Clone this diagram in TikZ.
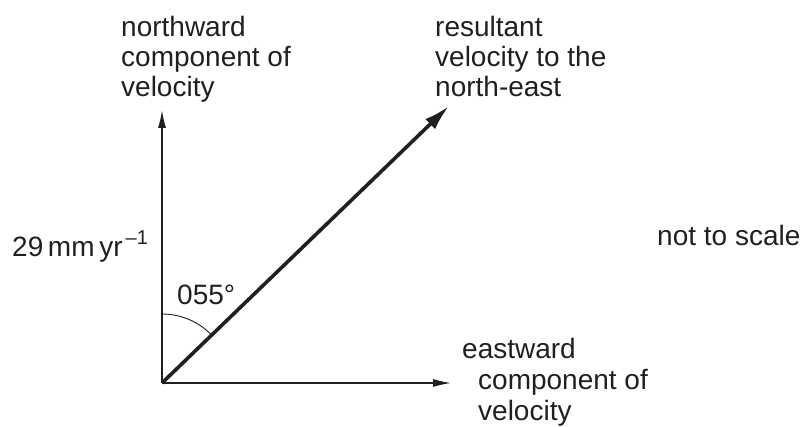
\documentclass[tikz,border=0pt]{standalone}
\usepackage{fontspec}
\setmainfont{Liberation Sans}
\usetikzlibrary{arrows.meta}
\definecolor{ink}{RGB}{35,31,32}
\tikzset{
  lbl/.style={anchor=base west, inner sep=0pt, text=ink, font=\fontsize{28}{31}\selectfont},
  axis/.style={draw=ink, line width=1.3pt, -{Latex[length=18pt,width=8pt]}},
  result/.style={draw=ink, line width=3.6pt, -{Latex[length=26pt,width=14pt]}},
  anglearc/.style={draw=ink, line width=0.9pt}
}
\begin{document}
\begin{tikzpicture}[x=1pt,y=-1pt]
\useasboundingbox (0,0) rectangle (808,427);
\coordinate (O) at (162,383);
\coordinate (N) at (162,110);
\coordinate (E) at (451,383);
\coordinate (R) at (449,106);
\coordinate (A) at (162,314);
% axes
\draw[axis] (O) -- (N);
\draw[axis] (O) -- (E);
\draw[result] (O) -- (R);
% angle arc
\draw[anglearc] (A) arc[start angle=90, end angle=44, radius=69pt];
% labels
\node[lbl] (n1) at (121,37) {northward};
\node[lbl] (n2) at (121,67) {component of};
\node[lbl] (n3) at (121,97) {velocity};
\node[lbl] (r1) at (435,37) {resultant};
\node[lbl] (r2) at (435,67) {velocity to the};
\node[lbl] (r3) at (435,97) {north-east};
\node[lbl] (e1) at (462,358) {eastward};
\node[lbl] (e2) at (478,389) {component of};
\node[lbl] (e3) at (478,420) {velocity};
\node[lbl] (ns) at (657,246) {not to scale};
\node[lbl] (sp) at (12,257) {29\,mm\,yr\hspace{3pt}\raisebox{12pt}{\fontsize{20}{20}\selectfont –1}};
\node[lbl] (ang) at (177,305) {055°};
\end{tikzpicture}
\end{document}
